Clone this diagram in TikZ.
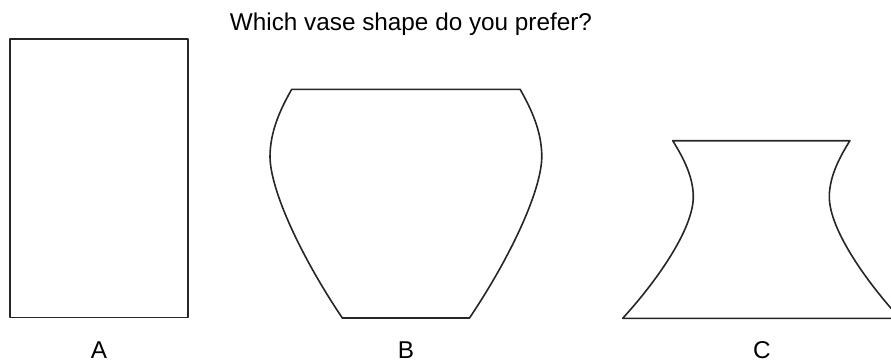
\documentclass[tikz,border=0pt]{standalone}
\usepackage{fontspec}
\setmainfont{Liberation Sans}
\begin{document}
\begin{tikzpicture}[x=1pt,y=-1pt,
  outline/.style={draw=black!85,line width=1.6pt,line join=round},
  lbl/.style={anchor=base,inner sep=0pt,font=\fontsize{24.3}{28}\selectfont}]
\useasboundingbox (0,0) rectangle (891,362);
% title
\node[lbl] (title) at (411,30) {Which vase shape do you prefer?};
% labels
\node[lbl] (la) at (99,358) {A};
\node[lbl] (lb) at (406,358) {B};
\node[lbl] (lc) at (762,358) {C};
\begin{scope}
\clip (0,0) rectangle (891,362);
% vase A
\draw[outline] (10,39) rectangle (188,317.5);
% vase B (symmetric about x=405.9)
\draw[outline] (291.7,89.3) -- (520.1,89.3)
  .. controls (531.9,110) and (541.8,132) .. (541.8,157)
  .. controls (541.3,190) and (511.8,255) .. (469.5,318)
  -- (342.3,318)
  .. controls (300,255) and (270.5,190) .. (270,157)
  .. controls (270,132) and (279.9,110) .. cycle;
% vase C (symmetric about x=761.3)
\draw[outline] (672.7,140.7) -- (849.9,140.7)
  .. controls (841.6,154) and (829.3,175) .. (829.3,196.7)
  .. controls (829.3,230) and (867.6,283) .. (899.9,318.3)
  -- (622.7,318.3)
  .. controls (655,283) and (693.3,230) .. (693.3,196.7)
  .. controls (693.3,175) and (681,154) .. cycle;
\end{scope}
\end{tikzpicture}
\end{document}
